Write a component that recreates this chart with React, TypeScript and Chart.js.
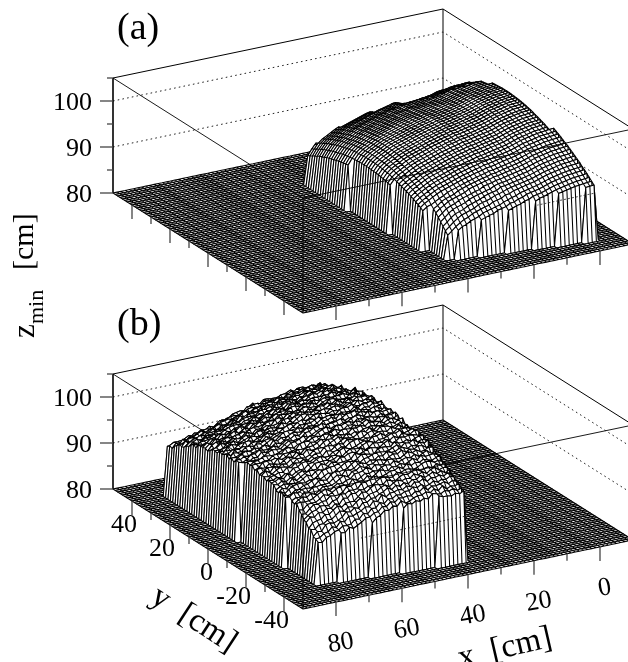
import React, { useEffect, useRef } from "react";
import { Chart, registerables } from "chart.js";

Chart.register(...registerables);

// ---- values -----------------------------------------------------------
const FLOOR_Z = 80;
const BIN = 1.25;
const BINS = 80;

// height along the top of the vault, by column (cm)
const aRidgeFirstX = -2.5;
const aRidge = [101.3,101.2,101.1,101,100.9,100.7,100.5,100.3,100.1,99.8,99.5,99.2,99,98.8,98.6,98.4,98.2,98,97.9,97.6,97.4,97.2,96.9,96.7,96.4,96.1,95.8,95.5,95.2,94.9,94.5,94,93.5,93,92.3,91.2,89.9];
const bRidgeFirstX = 36.25;
const bRidge = [103.9,103.9,103.9,103.9,103.9,103.8,103.7,103.6,103.5,103.4,103.2,103,102.8,102.7,102.6,102.4,102.2,102,101.7,101.4,101.1,100.8,100.5,100.2,99.9,99.6,99.3,99,98.8,98.5,98.3,98,97.8,97.5,97.2,96.8];

// fall from the ridge, by row, y = -43.75 ... 40 (cm)
const rowFirstY = -43.75;
const rowDrop = [9.8,9.3,8.8,8.3,7.8,7.3,6.9,6.4,6,5.6,5.2,4.8,4.4,4.1,3.8,3.4,3.1,2.8,2.5,2.3,2,1.8,1.6,1.4,1.2,1,0.8,0.7,0.5,0.4,0.3,0.2,0.15,0.1,0.05,0,0,0,0,0.05,0.1,0.15,0.2,0.3,0.4,0.5,0.65,0.8,1,1.15,1.3,1.5,1.75,2,2.2,2.5,2.8,3.1,3.4,3.7,4,4.4,4.7,5.1,5.5,5.9,6.3,6.7];

// extra fall at the low front corner, one digit per node (units of 0.25 cm)
const FALL_UNIT = 0.25;
const fallFirstY = -41.25;
const aFallFirstX = 12.5;
const bFallFirstX = 52.5;
const frontFall = [
"000000000000000000000",
"011223344444444555678",
"001122334444444555678",
"000112233344444555678",
"000011223333344455678",
"000001122233333445678",
"000000111222233334567",
"000000011112222333456",
"000000001111112222345",
"000000000011111122234",
"000000000000011111223",
"000000000000000111122",
"000000000000000001111",
];

// extra fall at the far corner of panel (a), same units
const backFallFirstY = 13.75;
const aBackFallFirstX = -2.5;
const aBackFall = [
"11111100000000000",
"22221111000000000",
"33322211110000000",
"44433322211100000",
"55444333222111000",
"66555444333222110",
"77666555444333221",
"88777666555444332",
"99888777666555443",
"99998887776665554",
"99999998887776665",
];

// outline of the raised area in each panel (steps of the staircase edge)
const aFrontBreaks = [1,8,15,22,29,36];
const aFrontY = [-42.5,-41.25,-40,-38.75,-37.5,-36.25,-35];
const aBackBreaks = [3,11,18,25,33,40];
const aBackY = [21.25,22.5,23.75,25,27.5,28.75,30];
const aLeftBreaks = [-27,-12,8];
const aLeftX = [37.5,40,41.25,42.5];
const aRightBreaks = [-20,10];
const aRightX = [-2.5,-1.25,0];

const bFrontBreaks = [45,54,63,72];
const bFrontY = [-41.25,-40,-38.75,-37.5,-36.25];
const bBackBreaks = [42,49,56,63,70,77];
const bBackY = [31.25,32.5,33.75,35,36.25,37.5,38.75];
const bLeftBreaks = [-21.6,0.5];
const bLeftX = [77.5,78.75,80];
const bRightBreaks = [-15,15];
const bRightX = [36.25,37.5,38.75];

// roughness of panel (b), one digit per node, 5 = on the smooth shape
const ROUGH_UNIT = 0.11;
const bRough = [
"537462583614725936481527364958216473",
"462857316495273846152937465128374695",
"736245918364572819364725186493527461",
"528473691527483916245738194625837164",
"645192837465218374965283716495382746",
"372854619372546182937465318274695318",
"594627318495736251847392615847362915",
"283746195827364519283746592817364852",
"617385294617382954163728495316827463",
"452961738254961873452961738425163987",
"738154296375148269738514629837156294",
"264897315648237951426385917264839517",
"851473629185742396581374926158473269",
"376592841637259418367592148376951482",
"429618375294861537429168753942681573",
"683274951368247195683427519863247915",
"517836294751683429571863249517386249",
"948251673494825167349285136794825361",
"362947185236974518623497158326749581",
"785163492578136942785316429857361294",
"246758319624875391246578931426785193",
"593481726359418267593841672953481726",
"174296853417962585174629358741926538",
"836572419683752149836257941863527491",
"451938267514398726451398672541938672",
"627415893762145938627145389672415389",
"398264571839624751389264175938264517",
"514873926451738296514783269415873269",
"762391458276931584762139485726391845",
"285647139528467319285467193852647319",
"943172586394712865943712658439172685",
"176589342617859423167589234716589324",
"638254917863524197638524179368254791",
"421796385142976835421976853214796853",
"857413629785143296857134962587413692",
"396825174639285714396285741963825147",
"542968371254698731542698317425968317",
"718352496871532964718532649187352649",
"263749185326479158263479518632749851",
"985126473598216743985216437859126437",
"147683952714863592147863529471683592",
"634275819463257189634257198346275819",
"852914367285941637852941673528914637",
"379561248937516284379516842793561284",
"516438792651348927516348279165438729",
"728196435872916354728916543287196453",
"493857126349587216493587261934857126",
"261743958126473895261473589612743958",
"875329614587239164875239641758329614",
"342685971234865917342865719423685971",
"619472385961742835619742853196472385",
"754138296475318962754318629547138296",
"483926157348296517483296571834926157",
"126857349612587493126587934261857349",
"597314682759134826597134268975314682",
"361748529136478259361478592613748529",
"845293167584923716845923671458293167",
"238561974823651794238651947382561974",
"674912385467192835674192853746912385",
"519386742951836472519836427195386742",
"782645193278465913782465139827645193",
"456127839645217389456217893564127839",
"931758426193578246931578264319758426",
"267483915726843195267843951672483915",
"548396271854936721548936217485396271",
"713254698371524968713524986137254698",
"385961427538691247385691472853961427",
"624173859462713589624713895246173859",
];

const zAxisTicks = [80,85,90,95,100,105];
const zLabels = [80,90,100];
const xAxisTicks = [0,10,20,30,40,50,60,70,80];
const xLabels = [80,60,40,20,0];
const yAxisTicks = [-40,-30,-20,-10,0,10,20,30,40];
const yLabels = [40,20,0,-20,-40];
const gridLevels = [90,100];
const frontMarkZ = 92.8;

// ---- projection of the plot box onto the page ---------------------------
const X_FRONT = 90, X_BACK = -10, Y_FRONT = -50;
const ORIGIN_X = 303, ORIGIN_A = 313, ORIGIN_B = 609;
const project = (x: number, y: number, z: number, oy: number) => {
  const u = (X_FRONT - x) / 100;
  const v = (y - Y_FRONT) / 100;
  return { x: ORIGIN_X + 330 * u - 190 * v, y: oy - 69 * u - 120 * v - (z - FLOOR_Z) * 4.6 };
};

const step = (breaks: number[], values: number[], t: number) => {
  let k = 0;
  while (k < breaks.length && t >= breaks[k]) k++;
  return values[k];
};

const digitAt = (table: string[], firstY: number, firstX: number, x: number, y: number) => {
  const row = table[Math.round((y - firstY) / BIN)];
  if (!row) return 0;
  const d = row[Math.round((x - firstX) / BIN)];
  return d === undefined ? 0 : Number(d) * FALL_UNIT;
};

const heightA = (x: number, y: number) => {
  if (x > step(aLeftBreaks, aLeftX, y) || x < step(aRightBreaks, aRightX, y)) return FLOOR_Z;
  if (y < step(aFrontBreaks, aFrontY, x) || y > step(aBackBreaks, aBackY, x)) return FLOOR_Z;
  return aRidge[Math.round((x - aRidgeFirstX) / BIN)]
    - rowDrop[Math.round((y - rowFirstY) / BIN)]
    - digitAt(frontFall, fallFirstY, aFallFirstX, x, y)
    - digitAt(aBackFall, backFallFirstY, aBackFallFirstX, x, y);
};
const heightB = (x: number, y: number) => {
  if (x > step(bLeftBreaks, bLeftX, y) || x < step(bRightBreaks, bRightX, y)) return FLOOR_Z;
  if (y < step(bFrontBreaks, bFrontY, x) || y > step(bBackBreaks, bBackY, x)) return FLOOR_Z;
  const c = Math.round((x - bRidgeFirstX) / BIN);
  const r = Math.round((y - rowFirstY) / BIN);
  const d = Number(bRough[r][c]) - 5;
  return bRidge[c] - rowDrop[r] - digitAt(frontFall, fallFirstY, bFallFirstX, x, y) + d * ROUGH_UNIT;
};

const SOLID = [10000, 0];
const lineSet = (data: any[], width: number, color = "#000", dash = SOLID) => ({
  data, showLine: true, fill: false, pointRadius: 0, borderWidth: width, borderColor: color,
  borderDash: dash, borderJoinStyle: "round", borderCapStyle: "butt", tension: 0,
});

const panelBack = (oy: number) => {
  const out: any[] = [];
  const top = 105;
  out.push(lineSet([project(90, 50, top, oy), project(-10, 50, top, oy), project(-10, 50, 80, oy)], 1));
  out.push(lineSet([project(-10, 50, top, oy), project(-10, -50, top, oy)], 1));
  for (const z of gridLevels) {
    out.push(lineSet([project(90, 50, z, oy), project(-10, 50, z, oy), project(-10, -50, z, oy)], 1, "#222", [1.6, 3.2]));
  }
  return out;
};

const panelSurface = (oy: number, h: (x: number, y: number) => number) => {
  const out: any[] = [];
  const P = (i: number, j: number) => {
    const x = X_BACK + i * BIN, y = Y_FRONT + j * BIN;
    return project(x, y, h(x, y), oy);
  };
  for (let j = BINS - 1; j >= 0; j--) {
    const path: any[] = [];
    for (let i = 0; i <= BINS; i++) path.push(P(i, j + 1));
    for (let i = BINS; i >= 0; i--) {
      path.push(P(i, j), P(i, j + 1), P(i, j));
    }
    out.push({ ...lineSet(path, 1.05), fill: "shape", backgroundColor: "#fff" });
  }
  return out;
};

const panelFront = (oy: number, frontDash: number[]) => {
  const out: any[] = [];
  const top = 105;
  out.push(lineSet([project(90, 50, top, oy), project(90, 50, 80, oy)], 1.6));
  out.push(lineSet([project(90, 50, top, oy), project(90, -50, top, oy), project(-10, -50, top, oy)], 0.9));
  out.push(lineSet([project(90, -50, top, oy), project(90, -50, 80, oy)], 0.9));
  out.push(lineSet([project(frontDash[0], -50, frontMarkZ, oy), project(frontDash[1], -50, frontMarkZ, oy)], 0.8, "#222", [2, 2]));
  for (const z of zAxisTicks) {
    const p = project(90, 50, z, oy);
    out.push(lineSet([{ x: p.x - (z % 10 === 0 ? 13 : 6), y: p.y }, p], 1.3, "#444"));
  }
  for (const x of xAxisTicks) {
    const p = project(x, -50, 80, oy);
    out.push(lineSet([p, { x: p.x, y: p.y + (x % 20 === 0 ? 14 : 7) }], 1.3, "#444"));
  }
  for (const y of yAxisTicks) {
    const p = project(90, y, 80, oy);
    out.push(lineSet([p, { x: p.x, y: p.y + (y % 20 === 0 ? 14 : 7) }], 1.3, "#444"));
  }
  return out;
};

const SERIF = '"Liberation Serif", "Times New Roman", serif';

const textPlugin = {
  id: "panelText",
  afterDraw(chart: any) {
    const { ctx, scales } = chart;
    const sx = (v: number) => scales.x.getPixelForValue(v);
    const sy = (v: number) => scales.y.getPixelForValue(v);
    const put = (t: string, x: number, y: number, size: number, align = "left", rot = 0, base = "alphabetic") => {
      ctx.save();
      ctx.translate(sx(x), sy(y));
      ctx.rotate((rot * Math.PI) / 180);
      ctx.font = `${size}px ${SERIF}`;
      ctx.fillStyle = "#000";
      ctx.textAlign = align;
      ctx.textBaseline = base;
      ctx.fillText(t, 0, 0);
      ctx.restore();
    };
    put("(a)", 117, 39, 38);
    put("(b)", 117, 335, 38);
    for (const oy of [ORIGIN_A, ORIGIN_B]) {
      for (const z of zLabels) {
        const p = project(90, 50, z, oy);
        put(String(z), 92, p.y + 9, 26, "right");
      }
    }
    for (const x of xLabels) {
      const p = project(x, -50, 80, ORIGIN_B);
      put(String(x), p.x + 6, p.y + 39 + 9, 26, "center", -10);
    }
    for (const y of yLabels) {
      const p = project(90, y, 80, ORIGIN_B);
      put(String(y), p.x + 5, p.y + 22 + 9, 26, "right");
    }
    put("x  [cm]", 507, 657, 33, "center", -13);
    put("y  [cm]", 189, 627, 33, "center", 33);
    put("z", 34, 338, 31, "left", -90);
    put("min", 43, 324, 22, "left", -90);
    put("[cm]", 33, 270, 30, "left", -90);
  },
};

export default function App() {
  const ref = useRef<HTMLCanvasElement | null>(null);
  useEffect(() => {
    const painter = [
      ...panelBack(ORIGIN_A),
      ...panelSurface(ORIGIN_A, heightA),
      ...panelFront(ORIGIN_A, [2, 19]),
      ...panelBack(ORIGIN_B),
      ...panelSurface(ORIGIN_B, heightB),
      ...panelFront(ORIGIN_B, [41, 73]),
    ];
    const chart = new Chart(ref.current as HTMLCanvasElement, {
      type: "scatter",
      data: { datasets: painter.reverse() },
      plugins: [textPlugin],
      options: {
        responsive: false,
        animation: false,
        events: [],
        layout: { padding: 0 },
        scales: {
          x: { type: "linear", min: 0, max: 628, display: false },
          y: { type: "linear", min: 0, max: 662, reverse: true, display: false },
        },
        plugins: {
          legend: { display: false },
          tooltip: { enabled: false },
          filler: { drawTime: "beforeDatasetDraw", propagate: false },
        },
      },
    } as any);
    return () => chart.destroy();
  }, []);
  return (
    <div style={{ position: "fixed", left: 0, top: 0, width: 628, height: 662, background: "#fff" }}>
      <canvas ref={ref} width={628} height={662} style={{ display: "block" }} />
    </div>
  );
}
